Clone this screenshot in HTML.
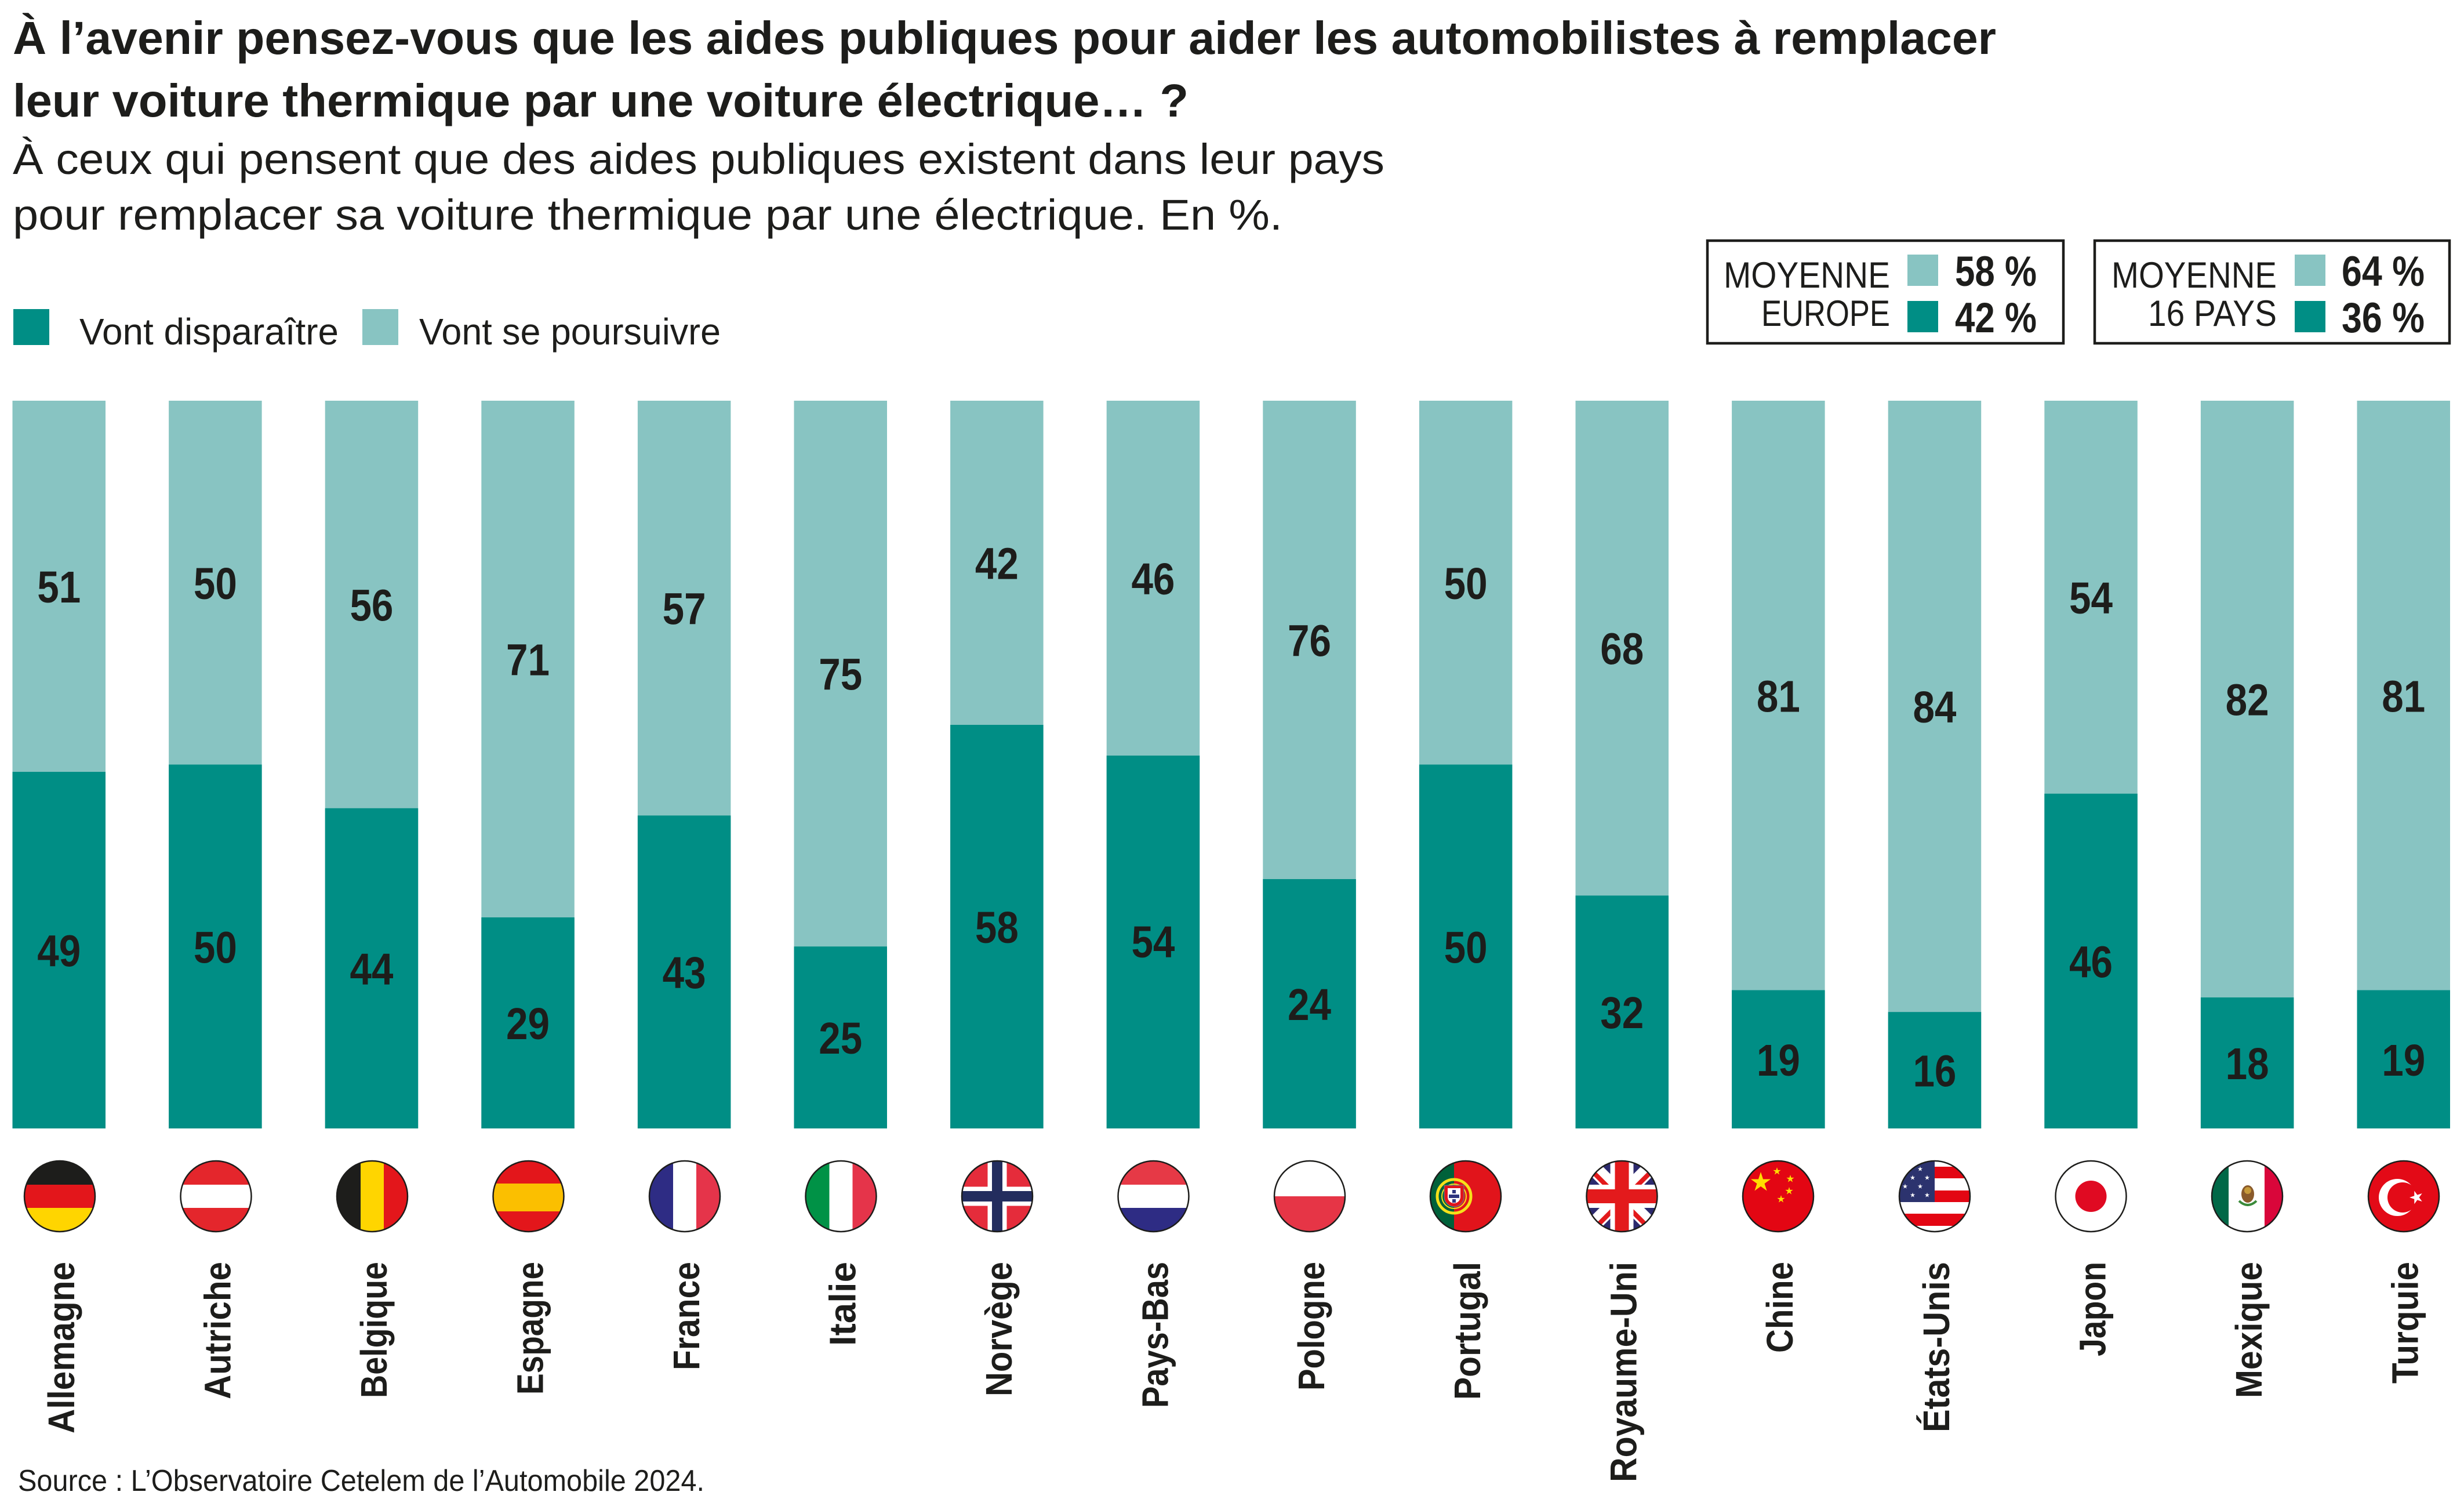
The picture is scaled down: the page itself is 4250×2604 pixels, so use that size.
<!DOCTYPE html>
<html><head><meta charset="utf-8">
<style>
html,body{margin:0;padding:0;background:#fff;}
svg{display:block;}
text{font-family:"Liberation Sans",Arial,sans-serif;fill:#1d1d1b;}
</style></head>
<body>
<svg width="4250" height="2604" viewBox="0 0 4250 2604" xmlns="http://www.w3.org/2000/svg">
<defs>
<clipPath id="fc" clipPathUnits="userSpaceOnUse"><circle cx="0" cy="0" r="61"/></clipPath>
<polygon id="star" points="0,-1 0.2245,-0.309 0.951,-0.309 0.363,0.118 0.588,0.809 0,0.382 -0.588,0.809 -0.363,0.118 -0.951,-0.309 -0.2245,-0.309"/>
</defs>
<rect width="4250" height="2604" fill="#fff"/>

<!-- Title -->
<text x="22" y="93" font-size="80" font-weight="bold" textLength="3421" lengthAdjust="spacingAndGlyphs">À l’avenir pensez-vous que les aides publiques pour aider les automobilistes à remplacer</text>
<text x="22" y="201" font-size="80" font-weight="bold" textLength="2028" lengthAdjust="spacingAndGlyphs">leur voiture thermique par une voiture électrique… ?</text>
<!-- Subtitle -->
<text x="22" y="300" font-size="74" textLength="2366" lengthAdjust="spacingAndGlyphs">À ceux qui pensent que des aides publiques existent dans leur pays</text>
<text x="22" y="396" font-size="74" textLength="2190" lengthAdjust="spacingAndGlyphs">pour remplacer sa voiture thermique par une électrique. En %.</text>

<!-- Legend -->
<rect x="23" y="533" width="62" height="62" fill="#008e85"/>
<text x="137" y="594" font-size="64" textLength="447" lengthAdjust="spacingAndGlyphs">Vont disparaître</text>
<rect x="625" y="533" width="62" height="62" fill="#88c4c2"/>
<text x="723" y="594" font-size="64" textLength="520" lengthAdjust="spacingAndGlyphs">Vont se poursuivre</text>

<!-- Average boxes -->
<rect x="2945" y="415" width="614" height="177" fill="none" stroke="#1d1d1b" stroke-width="4.5"/>
<text x="2973" y="496" font-size="63" textLength="287" lengthAdjust="spacingAndGlyphs">MOYENNE</text>
<text x="3260" y="562" font-size="63" text-anchor="end" textLength="222" lengthAdjust="spacingAndGlyphs">EUROPE</text>
<rect x="3290" y="439" width="53" height="54" fill="#88c4c2"/>
<rect x="3290" y="519" width="53" height="54" fill="#008e85"/>
<text x="3372" y="493" font-size="73" font-weight="bold" textLength="141" lengthAdjust="spacingAndGlyphs">58 %</text>
<text x="3372" y="573" font-size="73" font-weight="bold" textLength="141" lengthAdjust="spacingAndGlyphs">42 %</text>

<rect x="3613" y="415" width="612" height="177" fill="none" stroke="#1d1d1b" stroke-width="4.5"/>
<text x="3642" y="496" font-size="63" textLength="285" lengthAdjust="spacingAndGlyphs">MOYENNE</text>
<text x="3927" y="562" font-size="63" text-anchor="end" textLength="222" lengthAdjust="spacingAndGlyphs">16 PAYS</text>
<rect x="3958" y="439" width="53" height="54" fill="#88c4c2"/>
<rect x="3958" y="519" width="53" height="54" fill="#008e85"/>
<text x="4039" y="493" font-size="73" font-weight="bold" textLength="143" lengthAdjust="spacingAndGlyphs">64 %</text>
<text x="4039" y="573" font-size="73" font-weight="bold" textLength="143" lengthAdjust="spacingAndGlyphs">36 %</text>

<!-- Bars -->
<g fill="#88c4c2">
<rect x="21.5" y="691" width="160.5" height="1255"/>
<rect x="291.1" y="691" width="160.5" height="1255"/>
<rect x="560.7" y="691" width="160.5" height="1255"/>
<rect x="830.3" y="691" width="160.5" height="1255"/>
<rect x="1099.9" y="691" width="160.5" height="1255"/>
<rect x="1369.5" y="691" width="160.5" height="1255"/>
<rect x="1639.1" y="691" width="160.5" height="1255"/>
<rect x="1908.7" y="691" width="160.5" height="1255"/>
<rect x="2178.3" y="691" width="160.5" height="1255"/>
<rect x="2447.9" y="691" width="160.5" height="1255"/>
<rect x="2717.5" y="691" width="160.5" height="1255"/>
<rect x="2987.1" y="691" width="160.5" height="1255"/>
<rect x="3256.7" y="691" width="160.5" height="1255"/>
<rect x="3526.3" y="691" width="160.5" height="1255"/>
<rect x="3795.9" y="691" width="160.5" height="1255"/>
<rect x="4065.5" y="691" width="160.5" height="1255"/>
</g>
<g fill="#008e85">
<rect x="21.5" y="1331.05" width="160.5" height="614.95"/>
<rect x="291.1" y="1318.5" width="160.5" height="627.5"/>
<rect x="560.7" y="1393.8" width="160.5" height="552.2"/>
<rect x="830.3" y="1582.05" width="160.5" height="363.95"/>
<rect x="1099.9" y="1406.35" width="160.5" height="539.65"/>
<rect x="1369.5" y="1632.25" width="160.5" height="313.75"/>
<rect x="1639.1" y="1250" width="160.5" height="696"/>
<rect x="1908.7" y="1303" width="160.5" height="643"/>
<rect x="2178.3" y="1516" width="160.5" height="430"/>
<rect x="2447.9" y="1318.5" width="160.5" height="627.5"/>
<rect x="2717.5" y="1544.4" width="160.5" height="401.6"/>
<rect x="2987.1" y="1707.55" width="160.5" height="238.45"/>
<rect x="3256.7" y="1745.2" width="160.5" height="200.8"/>
<rect x="3526.3" y="1368.7" width="160.5" height="577.3"/>
<rect x="3795.9" y="1720.1" width="160.5" height="225.9"/>
<rect x="4065.5" y="1707.55" width="160.5" height="238.45"/>
</g>

<!-- Value labels -->
<g font-size="77" font-weight="bold" text-anchor="middle">
<text x="101.75" y="1039" textLength="75" lengthAdjust="spacingAndGlyphs">51</text>
<text x="101.75" y="1666.5" textLength="75" lengthAdjust="spacingAndGlyphs">49</text>
<text x="371.35" y="1032.75" textLength="75" lengthAdjust="spacingAndGlyphs">50</text>
<text x="371.35" y="1660.25" textLength="75" lengthAdjust="spacingAndGlyphs">50</text>
<text x="640.95" y="1070.4" textLength="75" lengthAdjust="spacingAndGlyphs">56</text>
<text x="640.95" y="1697.9" textLength="75" lengthAdjust="spacingAndGlyphs">44</text>
<text x="910.55" y="1164.5" textLength="75" lengthAdjust="spacingAndGlyphs">71</text>
<text x="910.55" y="1792" textLength="75" lengthAdjust="spacingAndGlyphs">29</text>
<text x="1180.15" y="1076.7" textLength="75" lengthAdjust="spacingAndGlyphs">57</text>
<text x="1180.15" y="1704.2" textLength="75" lengthAdjust="spacingAndGlyphs">43</text>
<text x="1449.75" y="1189.6" textLength="75" lengthAdjust="spacingAndGlyphs">75</text>
<text x="1449.75" y="1817.1" textLength="75" lengthAdjust="spacingAndGlyphs">25</text>
<text x="1719.35" y="998.5" textLength="75" lengthAdjust="spacingAndGlyphs">42</text>
<text x="1719.35" y="1626" textLength="75" lengthAdjust="spacingAndGlyphs">58</text>
<text x="1988.95" y="1025" textLength="75" lengthAdjust="spacingAndGlyphs">46</text>
<text x="1988.95" y="1651" textLength="75" lengthAdjust="spacingAndGlyphs">54</text>
<text x="2258.55" y="1131.5" textLength="75" lengthAdjust="spacingAndGlyphs">76</text>
<text x="2258.55" y="1759" textLength="75" lengthAdjust="spacingAndGlyphs">24</text>
<text x="2528.15" y="1032.75" textLength="75" lengthAdjust="spacingAndGlyphs">50</text>
<text x="2528.15" y="1660.25" textLength="75" lengthAdjust="spacingAndGlyphs">50</text>
<text x="2797.75" y="1145.7" textLength="75" lengthAdjust="spacingAndGlyphs">68</text>
<text x="2797.75" y="1773.2" textLength="75" lengthAdjust="spacingAndGlyphs">32</text>
<text x="3067.35" y="1227.3" textLength="75" lengthAdjust="spacingAndGlyphs">81</text>
<text x="3067.35" y="1854.8" textLength="75" lengthAdjust="spacingAndGlyphs">19</text>
<text x="3336.95" y="1246.1" textLength="75" lengthAdjust="spacingAndGlyphs">84</text>
<text x="3336.95" y="1873.6" textLength="75" lengthAdjust="spacingAndGlyphs">16</text>
<text x="3606.55" y="1057.85" textLength="75" lengthAdjust="spacingAndGlyphs">54</text>
<text x="3606.55" y="1685.35" textLength="75" lengthAdjust="spacingAndGlyphs">46</text>
<text x="3876.15" y="1233.55" textLength="75" lengthAdjust="spacingAndGlyphs">82</text>
<text x="3876.15" y="1861.05" textLength="75" lengthAdjust="spacingAndGlyphs">18</text>
<text x="4145.75" y="1227.3" textLength="75" lengthAdjust="spacingAndGlyphs">81</text>
<text x="4145.75" y="1854.8" textLength="75" lengthAdjust="spacingAndGlyphs">19</text>
</g>

<!-- Flags -->
<!-- Germany -->
<g transform="translate(103,2063)"><g clip-path="url(#fc)">
<rect x="-62" y="-62" width="124" height="42" fill="#1d1d1b"/><rect x="-62" y="-20" width="124" height="40" fill="#e3161b"/><rect x="-62" y="20" width="124" height="42" fill="#ffd500"/>
</g><circle r="61" fill="none" stroke="#1d1d1b" stroke-width="2.5"/></g>
<!-- Austria -->
<g transform="translate(372.5,2063)"><g clip-path="url(#fc)">
<rect x="-62" y="-62" width="124" height="124" fill="#e4262c"/><rect x="-62" y="-20" width="124" height="40" fill="#fff"/>
</g><circle r="61" fill="none" stroke="#1d1d1b" stroke-width="2.5"/></g>
<!-- Belgium -->
<g transform="translate(642,2063)"><g clip-path="url(#fc)">
<rect x="-62" y="-62" width="42" height="124" fill="#1d1d1b"/><rect x="-20" y="-62" width="40" height="124" fill="#ffd500"/><rect x="20" y="-62" width="42" height="124" fill="#e3161b"/>
</g><circle r="61" fill="none" stroke="#1d1d1b" stroke-width="2.5"/></g>
<!-- Spain -->
<g transform="translate(911.5,2063)"><g clip-path="url(#fc)">
<rect x="-62" y="-62" width="124" height="124" fill="#e3161b"/><rect x="-62" y="-22" width="124" height="48" fill="#fbbf00"/>
</g><circle r="61" fill="none" stroke="#1d1d1b" stroke-width="2.5"/></g>
<!-- France -->
<g transform="translate(1181,2063)"><g clip-path="url(#fc)">
<rect x="-62" y="-62" width="42" height="124" fill="#2e2c84"/><rect x="-20" y="-62" width="40" height="124" fill="#fff"/><rect x="20" y="-62" width="42" height="124" fill="#e5344a"/>
</g><circle r="61" fill="none" stroke="#1d1d1b" stroke-width="2.5"/></g>
<!-- Italy -->
<g transform="translate(1450.5,2063)"><g clip-path="url(#fc)">
<rect x="-62" y="-62" width="42" height="124" fill="#009246"/><rect x="-20" y="-62" width="40" height="124" fill="#fff"/><rect x="20" y="-62" width="42" height="124" fill="#e5344a"/>
</g><circle r="61" fill="none" stroke="#1d1d1b" stroke-width="2.5"/></g>
<!-- Norway -->
<g transform="translate(1720,2063)"><g clip-path="url(#fc)">
<rect x="-62" y="-62" width="124" height="124" fill="#e52c3b"/>
<rect x="-16.5" y="-62" width="33" height="124" fill="#fff"/><rect x="-62" y="-16.5" width="124" height="33" fill="#fff"/>
<rect x="-9" y="-62" width="18" height="124" fill="#232d5e"/><rect x="-62" y="-9" width="124" height="18" fill="#232d5e"/>
</g><circle r="61" fill="none" stroke="#1d1d1b" stroke-width="2.5"/></g>
<!-- Netherlands -->
<g transform="translate(1989.5,2063)"><g clip-path="url(#fc)">
<rect x="-62" y="-62" width="124" height="42" fill="#e63946"/><rect x="-62" y="-20" width="124" height="40" fill="#fff"/><rect x="-62" y="20" width="124" height="42" fill="#2e2c84"/>
</g><circle r="61" fill="none" stroke="#1d1d1b" stroke-width="2.5"/></g>
<!-- Poland -->
<g transform="translate(2259,2063)"><g clip-path="url(#fc)">
<rect x="-62" y="-62" width="124" height="62" fill="#fff"/><rect x="-62" y="0" width="124" height="62" fill="#e63546"/>
</g><circle r="61" fill="none" stroke="#1d1d1b" stroke-width="2.5"/></g>
<!-- Portugal -->
<g transform="translate(2528,2063)"><g clip-path="url(#fc)">
<rect x="-62" y="-62" width="124" height="124" fill="#e1141b"/><rect x="-62" y="-62" width="42" height="124" fill="#00613a"/>
<circle cx="-20" cy="0" r="29" fill="none" stroke="#f5e11a" stroke-width="5"/>
<circle cx="-20" cy="0" r="21" fill="none" stroke="#f5e11a" stroke-width="2"/>
<path d="M-37,-19 h34 v20 a17,17 0 0 1 -34,0 z" fill="#e1141b" stroke="#4d8f9c" stroke-width="1"/>
<path d="M-31,-14 h22 v15 a11,11 0 0 1 -22,0 z" fill="#fff"/>
<rect x="-23" y="-11" width="6" height="6" fill="#2e3680"/><rect x="-29" y="-3" width="6" height="6" fill="#2e3680"/><rect x="-23" y="-3" width="6" height="6" fill="#2e3680"/><rect x="-17" y="-3" width="6" height="6" fill="#2e3680"/><rect x="-23" y="5" width="6" height="6" fill="#2e3680"/>
</g><circle r="61" fill="none" stroke="#1d1d1b" stroke-width="2.5"/></g>
<!-- UK -->
<g transform="translate(2797.5,2063)"><g clip-path="url(#fc)">
<rect x="-62" y="-62" width="124" height="124" fill="#2c2a6e"/>
<path d="M-62,-62 L62,62 M62,-62 L-62,62" stroke="#fff" stroke-width="26"/>
<path d="M-62,-62 L0,0 M62,62 L0,0" stroke="#e31a1c" stroke-width="8" transform="translate(-4,4)"/>
<path d="M62,-62 L0,0 M-62,62 L0,0" stroke="#e31a1c" stroke-width="8" transform="translate(4,4)"/>
<rect x="-20" y="-62" width="40" height="124" fill="#fff"/><rect x="-62" y="-20" width="124" height="40" fill="#fff"/>
<rect x="-12" y="-62" width="24" height="124" fill="#e31a1c"/><rect x="-62" y="-12" width="124" height="24" fill="#e31a1c"/>
</g><circle r="61" fill="none" stroke="#1d1d1b" stroke-width="2.5"/></g>
<!-- China -->
<g transform="translate(3067,2063)"><g clip-path="url(#fc)">
<rect x="-62" y="-62" width="124" height="124" fill="#e30613"/>
<g fill="#ffde00">
<use href="#star" transform="translate(-30,-24) scale(18)"/>
<use href="#star" transform="translate(-2,-43) scale(7)"/>
<use href="#star" transform="translate(21,-30) scale(7)"/>
<use href="#star" transform="translate(19,-9) scale(7)"/>
<use href="#star" transform="translate(5,5) scale(7)"/>
</g>
</g><circle r="61" fill="none" stroke="#1d1d1b" stroke-width="2.5"/></g>
<!-- USA -->
<g transform="translate(3337,2063)"><g clip-path="url(#fc)">
<rect x="-62" y="-62" width="124" height="124" fill="#fff"/>
<rect x="-62" y="-51" width="124" height="20" fill="#e30613"/>
<rect x="-62" y="-10" width="124" height="20" fill="#e30613"/>
<rect x="-62" y="30" width="124" height="21" fill="#e30613"/>
<rect x="-62" y="-62" width="62" height="72" fill="#2c336e"/>
<g fill="#fff">
<use href="#star" transform="translate(-25,-47) scale(4.5)"/>
<use href="#star" transform="translate(-38,-32) scale(4.5)"/>
<use href="#star" transform="translate(-13,-32) scale(4.5)"/>
<use href="#star" transform="translate(-51,-17) scale(4.5)"/>
<use href="#star" transform="translate(-25,-17) scale(4.5)"/>
<use href="#star" transform="translate(-38,-2) scale(4.5)"/>
<use href="#star" transform="translate(-13,-2) scale(4.5)"/>
</g>
</g><circle r="61" fill="none" stroke="#1d1d1b" stroke-width="2.5"/></g>
<!-- Japan -->
<g transform="translate(3606.5,2063)"><g clip-path="url(#fc)">
<rect x="-62" y="-62" width="124" height="124" fill="#fff"/><circle r="27" fill="#e00a22"/>
</g><circle r="61" fill="none" stroke="#1d1d1b" stroke-width="2.5"/></g>
<!-- Mexico -->
<g transform="translate(3876,2063)"><g clip-path="url(#fc)">
<rect x="-62" y="-62" width="124" height="124" fill="#fff"/><rect x="-62" y="-62" width="30" height="124" fill="#006847"/><rect x="30" y="-62" width="32" height="124" fill="#d9063a"/>
<ellipse cx="1" cy="-4" rx="11" ry="15" fill="#8a5a2b"/>
<path d="M-14,8 q15,14 30,0" fill="none" stroke="#3a8a3a" stroke-width="4"/>
<ellipse cx="1" cy="-10" rx="6" ry="6" fill="#c79a3a"/>
</g><circle r="61" fill="none" stroke="#1d1d1b" stroke-width="2.5"/></g>
<!-- Turkey -->
<g transform="translate(4146,2063)"><g clip-path="url(#fc)">
<rect x="-62" y="-62" width="124" height="124" fill="#e30a17"/>
<circle cx="-11" cy="2" r="32" fill="#fff"/><circle cx="-2" cy="2" r="26" fill="#e30a17"/>
<use href="#star" fill="#fff" transform="translate(22,2) rotate(-90) scale(12)"/>
</g><circle r="61" fill="none" stroke="#1d1d1b" stroke-width="2.5"/></g>

<!-- Country labels -->
<g font-size="64" font-weight="bold" text-anchor="end">
<text transform="translate(128,2176) rotate(-90)" textLength="296" lengthAdjust="spacingAndGlyphs">Allemagne</text>
<text transform="translate(397.5,2176) rotate(-90)" textLength="237" lengthAdjust="spacingAndGlyphs">Autriche</text>
<text transform="translate(667,2176) rotate(-90)" textLength="235" lengthAdjust="spacingAndGlyphs">Belgique</text>
<text transform="translate(936.5,2176) rotate(-90)" textLength="229" lengthAdjust="spacingAndGlyphs">Espagne</text>
<text transform="translate(1206,2176) rotate(-90)" textLength="187" lengthAdjust="spacingAndGlyphs">France</text>
<text transform="translate(1475.5,2176) rotate(-90)" textLength="145" lengthAdjust="spacingAndGlyphs">Italie</text>
<text transform="translate(1745,2176) rotate(-90)" textLength="232" lengthAdjust="spacingAndGlyphs">Norvège</text>
<text transform="translate(2014.5,2176) rotate(-90)" textLength="252" lengthAdjust="spacingAndGlyphs">Pays-Bas</text>
<text transform="translate(2284,2176) rotate(-90)" textLength="222" lengthAdjust="spacingAndGlyphs">Pologne</text>
<text transform="translate(2553,2176) rotate(-90)" textLength="238" lengthAdjust="spacingAndGlyphs">Portugal</text>
<text transform="translate(2822.5,2176) rotate(-90)" textLength="380" lengthAdjust="spacingAndGlyphs">Royaume-Uni</text>
<text transform="translate(3092,2176) rotate(-90)" textLength="157" lengthAdjust="spacingAndGlyphs">Chine</text>
<text transform="translate(3362,2176) rotate(-90)" textLength="294" lengthAdjust="spacingAndGlyphs">États-Unis</text>
<text transform="translate(3631.5,2176) rotate(-90)" textLength="163" lengthAdjust="spacingAndGlyphs">Japon</text>
<text transform="translate(3901,2176) rotate(-90)" textLength="235" lengthAdjust="spacingAndGlyphs">Mexique</text>
<text transform="translate(4170.5,2176) rotate(-90)" textLength="210" lengthAdjust="spacingAndGlyphs">Turquie</text>
</g>

<!-- Source -->
<text x="31" y="2571" font-size="52" textLength="1184" lengthAdjust="spacingAndGlyphs">Source : L’Observatoire Cetelem de l’Automobile 2024.</text>
</svg>
</body></html>
